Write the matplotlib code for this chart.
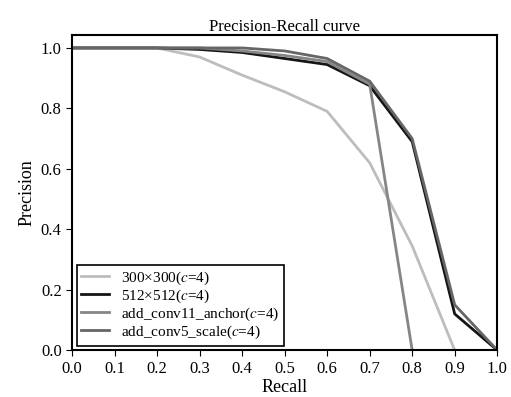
import matplotlib
matplotlib.use("Agg")
import matplotlib.pyplot as plt

plt.rcParams['font.family'] = ['Liberation Serif', 'DejaVu Serif']
plt.rcParams['mathtext.fontset'] = 'stix'

recall = [0.0, 0.1, 0.2, 0.3, 0.4, 0.5, 0.6, 0.7, 0.8, 0.9, 1.0]

# precision per model
p_300 = [1.0, 1.0, 1.0, 0.97, 0.91, 0.855, 0.79, 0.62, 0.345, 0.0]
p_512 = [1.0, 1.0, 1.0, 0.995, 0.985, 0.965, 0.945, 0.875, 0.69, 0.12, 0.0]
p_anchor = [1.0, 1.0, 1.0, 1.0, 0.99, 0.975, 0.955, 0.88, 0.0]
p_scale = [1.0, 1.0, 1.0, 1.0, 1.0, 0.99, 0.965, 0.89, 0.70, 0.15, 0.0]

labels = ['300×300($c$=4)', '512×512($c$=4)',
          'add_conv11_anchor($c$=4)', 'add_conv5_scale($c$=4)']

fig, ax = plt.subplots(figsize=(5.11, 3.97), dpi=100)
fig.subplots_adjust(left=0.141, right=0.973, top=0.912, bottom=0.118)

ax.plot(recall[:len(p_300)], p_300, color='#bdbdbd', lw=2, label=labels[0])
ax.plot(recall[:len(p_512)], p_512, color='#151515', lw=2, label=labels[1])
ax.plot(recall[:len(p_anchor)], p_anchor, color='#858585', lw=2, label=labels[2])
ax.plot(recall[:len(p_scale)], p_scale, color='#666666', lw=2, label=labels[3])

ax.set_xlim(0, 1.0)
ax.set_ylim(0, 1.043)
ax.set_xticks([i / 10 for i in range(11)])
ax.set_yticks([0.0, 0.2, 0.4, 0.6, 0.8, 1.0])
ax.set_xlabel('Recall', fontsize=13, labelpad=2)
ax.set_ylabel('Precision', fontsize=13)
ax.set_title('Precision-Recall curve', fontsize=12, pad=3)
ax.tick_params(labelsize=12, direction='out', length=4)
for s in ax.spines.values():
    s.set_linewidth(1.5)

leg = ax.legend(loc='lower left', fontsize=11, fancybox=False,
                edgecolor='black', framealpha=1, borderaxespad=0.3,
                handlelength=1.8, labelspacing=0.05, borderpad=0.3)
leg.get_frame().set_linewidth(1.2)

fig.savefig('out.png', dpi=100)
